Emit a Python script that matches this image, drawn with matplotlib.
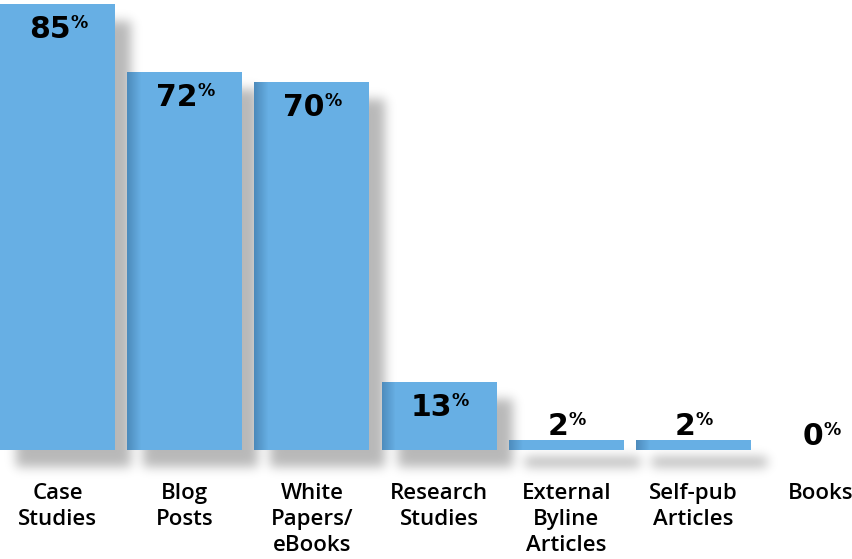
import numpy as np
import matplotlib
matplotlib.use("Agg")
import matplotlib.pyplot as plt

categories = ["Case\nStudies", "Blog\nPosts", "White\nPapers/\neBooks", "Research\nStudies",
              "External\nByline\nArticles", "Self-pub\nArticles", "Books"]
values = [85, 72, 70, 13, 2, 2, 0]

BAR_COLOR = "#67afe4"
W, H = 852, 559

fig = plt.figure(figsize=(W / 100, H / 100), dpi=100)
ax = fig.add_axes([0, 0, 1, 1])
ax.set_axis_off()
xlim = (-0.452, 6.246)
ylim = (-20.76, 85.71)
ax.set_xlim(*xlim)
ax.set_ylim(*ylim)

x = np.arange(len(values))
bars = ax.bar(x, values, width=0.904, color=BAR_COLOR, zorder=3)

# pixel boxes of the bars, used for the soft drop shadow and the inner edge shade
renderer = fig.canvas.get_renderer()
boxes = [b.get_window_extent(renderer) for b in bars]

def blur(img, sigma):
    r = int(3 * sigma)
    t = np.arange(-r, r + 1)
    k = np.exp(-t ** 2 / (2 * sigma ** 2))
    k /= k.sum()
    img = np.apply_along_axis(lambda row: np.convolve(row, k, mode="same"), 1, img)
    img = np.apply_along_axis(lambda col: np.convolve(col, k, mode="same"), 0, img)
    return img

cols = np.arange(W)[None, :] + 0.5
rows = np.arange(H)[:, None] + 0.5
ypix = H - rows  # display y for each image row

shadow = np.zeros((H, W))
shade = np.zeros((H, W))
dx, dy = 16, 17
for i, bb in enumerate(boxes):
    if bb.height <= 0.5:
        continue
    inside = ((cols >= bb.x0 + dx) & (cols <= bb.x1 + dx) &
              (ypix >= bb.y0 - dy) & (ypix <= bb.y1 - dy))
    shadow[inside] = 1.0
    if bb.x0 <= 1:
        continue  # first bar sits on the left edge, no inner shade
    d = cols - bb.x0
    edge = (d >= 0) & (d <= 14) & (ypix >= bb.y0) & (ypix <= bb.y1) & (cols <= bb.x1)
    shade = np.where(edge, np.clip(1 - d / 14, 0, 1) * 0.32, shade)

shadow = blur(shadow, 5.5) * 0.28

shadow_rgba = np.zeros((H, W, 4))
shadow_rgba[..., 3] = shadow
shade_rgba = np.zeros((H, W, 4))
shade_rgba[..., 0] = 20 / 255
shade_rgba[..., 1] = 60 / 255
shade_rgba[..., 2] = 100 / 255
shade_rgba[..., 3] = shade

ext = (xlim[0], xlim[1], ylim[0], ylim[1])
ax.imshow(shadow_rgba, extent=ext, origin="upper", aspect="auto",
          interpolation="bilinear", zorder=1)
ax.imshow(shade_rgba, extent=ext, origin="upper", aspect="auto",
          interpolation="bilinear", zorder=4)
ax.set_xlim(*xlim)
ax.set_ylim(*ylim)

# value labels: big number with a small raised percent sign
for xi, v in zip(x, values):
    off = (-8, -34) if v >= 10 else (-8, 5)
    num = ax.annotate(str(v), xy=(xi, v), xytext=off, textcoords="offset pixels",
                      ha="center", va="baseline", fontsize=21.5, fontweight="bold",
                      family="DejaVu Sans", color="black", zorder=6)
    ax.annotate("%", xy=(1.0, 1.0), xycoords=num, xytext=(0, 1),
                textcoords="offset pixels", ha="left", va="top", fontsize=12.5,
                fontweight="bold", family="DejaVu Sans", color="black", zorder=6)

# category names under the bars
for xi, name in zip(x, categories):
    ax.text(xi, -6.3, name, ha="center", va="top", fontsize=16,
            family="Open Sans", fontweight="semibold", color="black",
            linespacing=1.32, zorder=6)

fig.savefig("out.png", dpi=100)
